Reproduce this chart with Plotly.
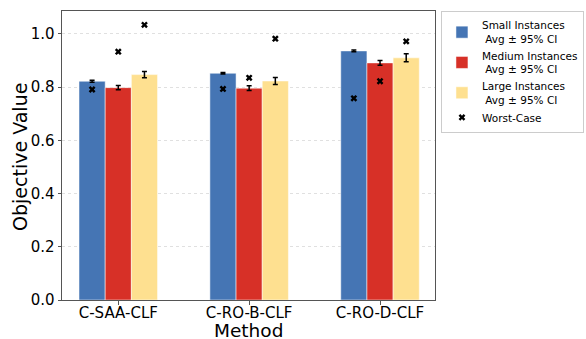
import plotly.graph_objects as go

methods = ["C-SAA-CLF", "C-RO-B-CLF", "C-RO-D-CLF"]
series_names = ["Small Instances<br> Avg ± 95% CI", "Medium Instances<br> Avg ± 95% CI", "Large Instances<br> Avg ± 95% CI"]
small_avg = [0.822, 0.852, 0.936]
medium_avg = [0.798, 0.796, 0.891]
large_avg = [0.847, 0.823, 0.910]
small_ci = [0.004, 0.003, 0.003]
medium_ci = [0.008, 0.009, 0.009]
large_ci = [0.012, 0.013, 0.015]
small_worst = [0.791, 0.793, 0.758]
medium_worst = [0.933, 0.835, 0.822]
large_worst = [1.034, 0.982, 0.972]
colors = ["#4575b4", "#d73027", "#fee090"]

avgs = [small_avg, medium_avg, large_avg]
cis = [small_ci, medium_ci, large_ci]
worsts = [small_worst, medium_worst, large_worst]

bar_w = 0.2
offsets = [-bar_w, 0.0, bar_w]
xs = list(range(len(methods)))

fig = go.Figure()
for name, avg, ci, col, off in zip(series_names, avgs, cis, colors, offsets):
    fig.add_trace(go.Bar(
        x=[x + off for x in xs], y=avg, width=bar_w, name=name,
        marker=dict(color=col, line=dict(color="rgba(255,255,255,0.5)", width=1)),
        error_y=dict(type="data", array=ci, color="black", thickness=1.5, width=2.5),
    ))

wx, wy = [], []
for w, off in zip(worsts, offsets):
    for x, v in zip(xs, w):
        wx.append(x + off)
        wy.append(v)
fig.add_trace(go.Scatter(
    x=wx, y=wy, mode="markers", name="Worst-Case",
    marker=dict(symbol="x", color="black", size=6),
))

fig.update_layout(
    width=586, height=339,
    margin=dict(l=62, r=151, t=11, b=39, autoexpand=False),
    plot_bgcolor="white", paper_bgcolor="white",
    font=dict(family="DejaVu Sans", color="black"),
    barmode="overlay",
    showlegend=True,
    legend=dict(
        x=1.016, y=1.0, xanchor="left", yanchor="top",
        bordercolor="#cccccc", borderwidth=1,
        font=dict(size=10.5), tracegroupgap=0,
    ),
    xaxis=dict(
        range=[-0.43, 2.42], tickvals=xs, ticktext=methods,
        tickfont=dict(size=15), ticks="outside", ticklen=3.5, tickcolor="#555",
        ticklabelstandoff=-5,
        showline=True, linecolor="#555", linewidth=1, mirror=True,
        showgrid=False, zeroline=False, automargin=False,
    ),
    yaxis=dict(
        range=[0, 1.086], tickvals=[0, 0.2, 0.4, 0.6, 0.8, 1.0],
        tickformat=".1f", tickfont=dict(size=15),
        ticks="outside", ticklen=3.5, tickcolor="#555",
        showline=True, linecolor="#555", linewidth=1, mirror=True,
        showgrid=True, gridcolor="#e0e0e0", griddash="dot", gridwidth=1,
        zeroline=False, automargin=False,
    ),
    annotations=[
        dict(text="Method", xref="paper", yref="paper", x=0.5, y=-0.104,
             xanchor="center", yanchor="middle", showarrow=False, font=dict(size=18.5)),
        dict(text="Objective Value", xref="paper", yref="paper", x=-0.1126, y=0.495,
             xanchor="center", yanchor="middle", textangle=-90, showarrow=False,
             font=dict(size=19)),
    ],
)

fig.write_html("out.html", config={"displayModeBar": False},
               post_script="document.body.style.margin='0';")
